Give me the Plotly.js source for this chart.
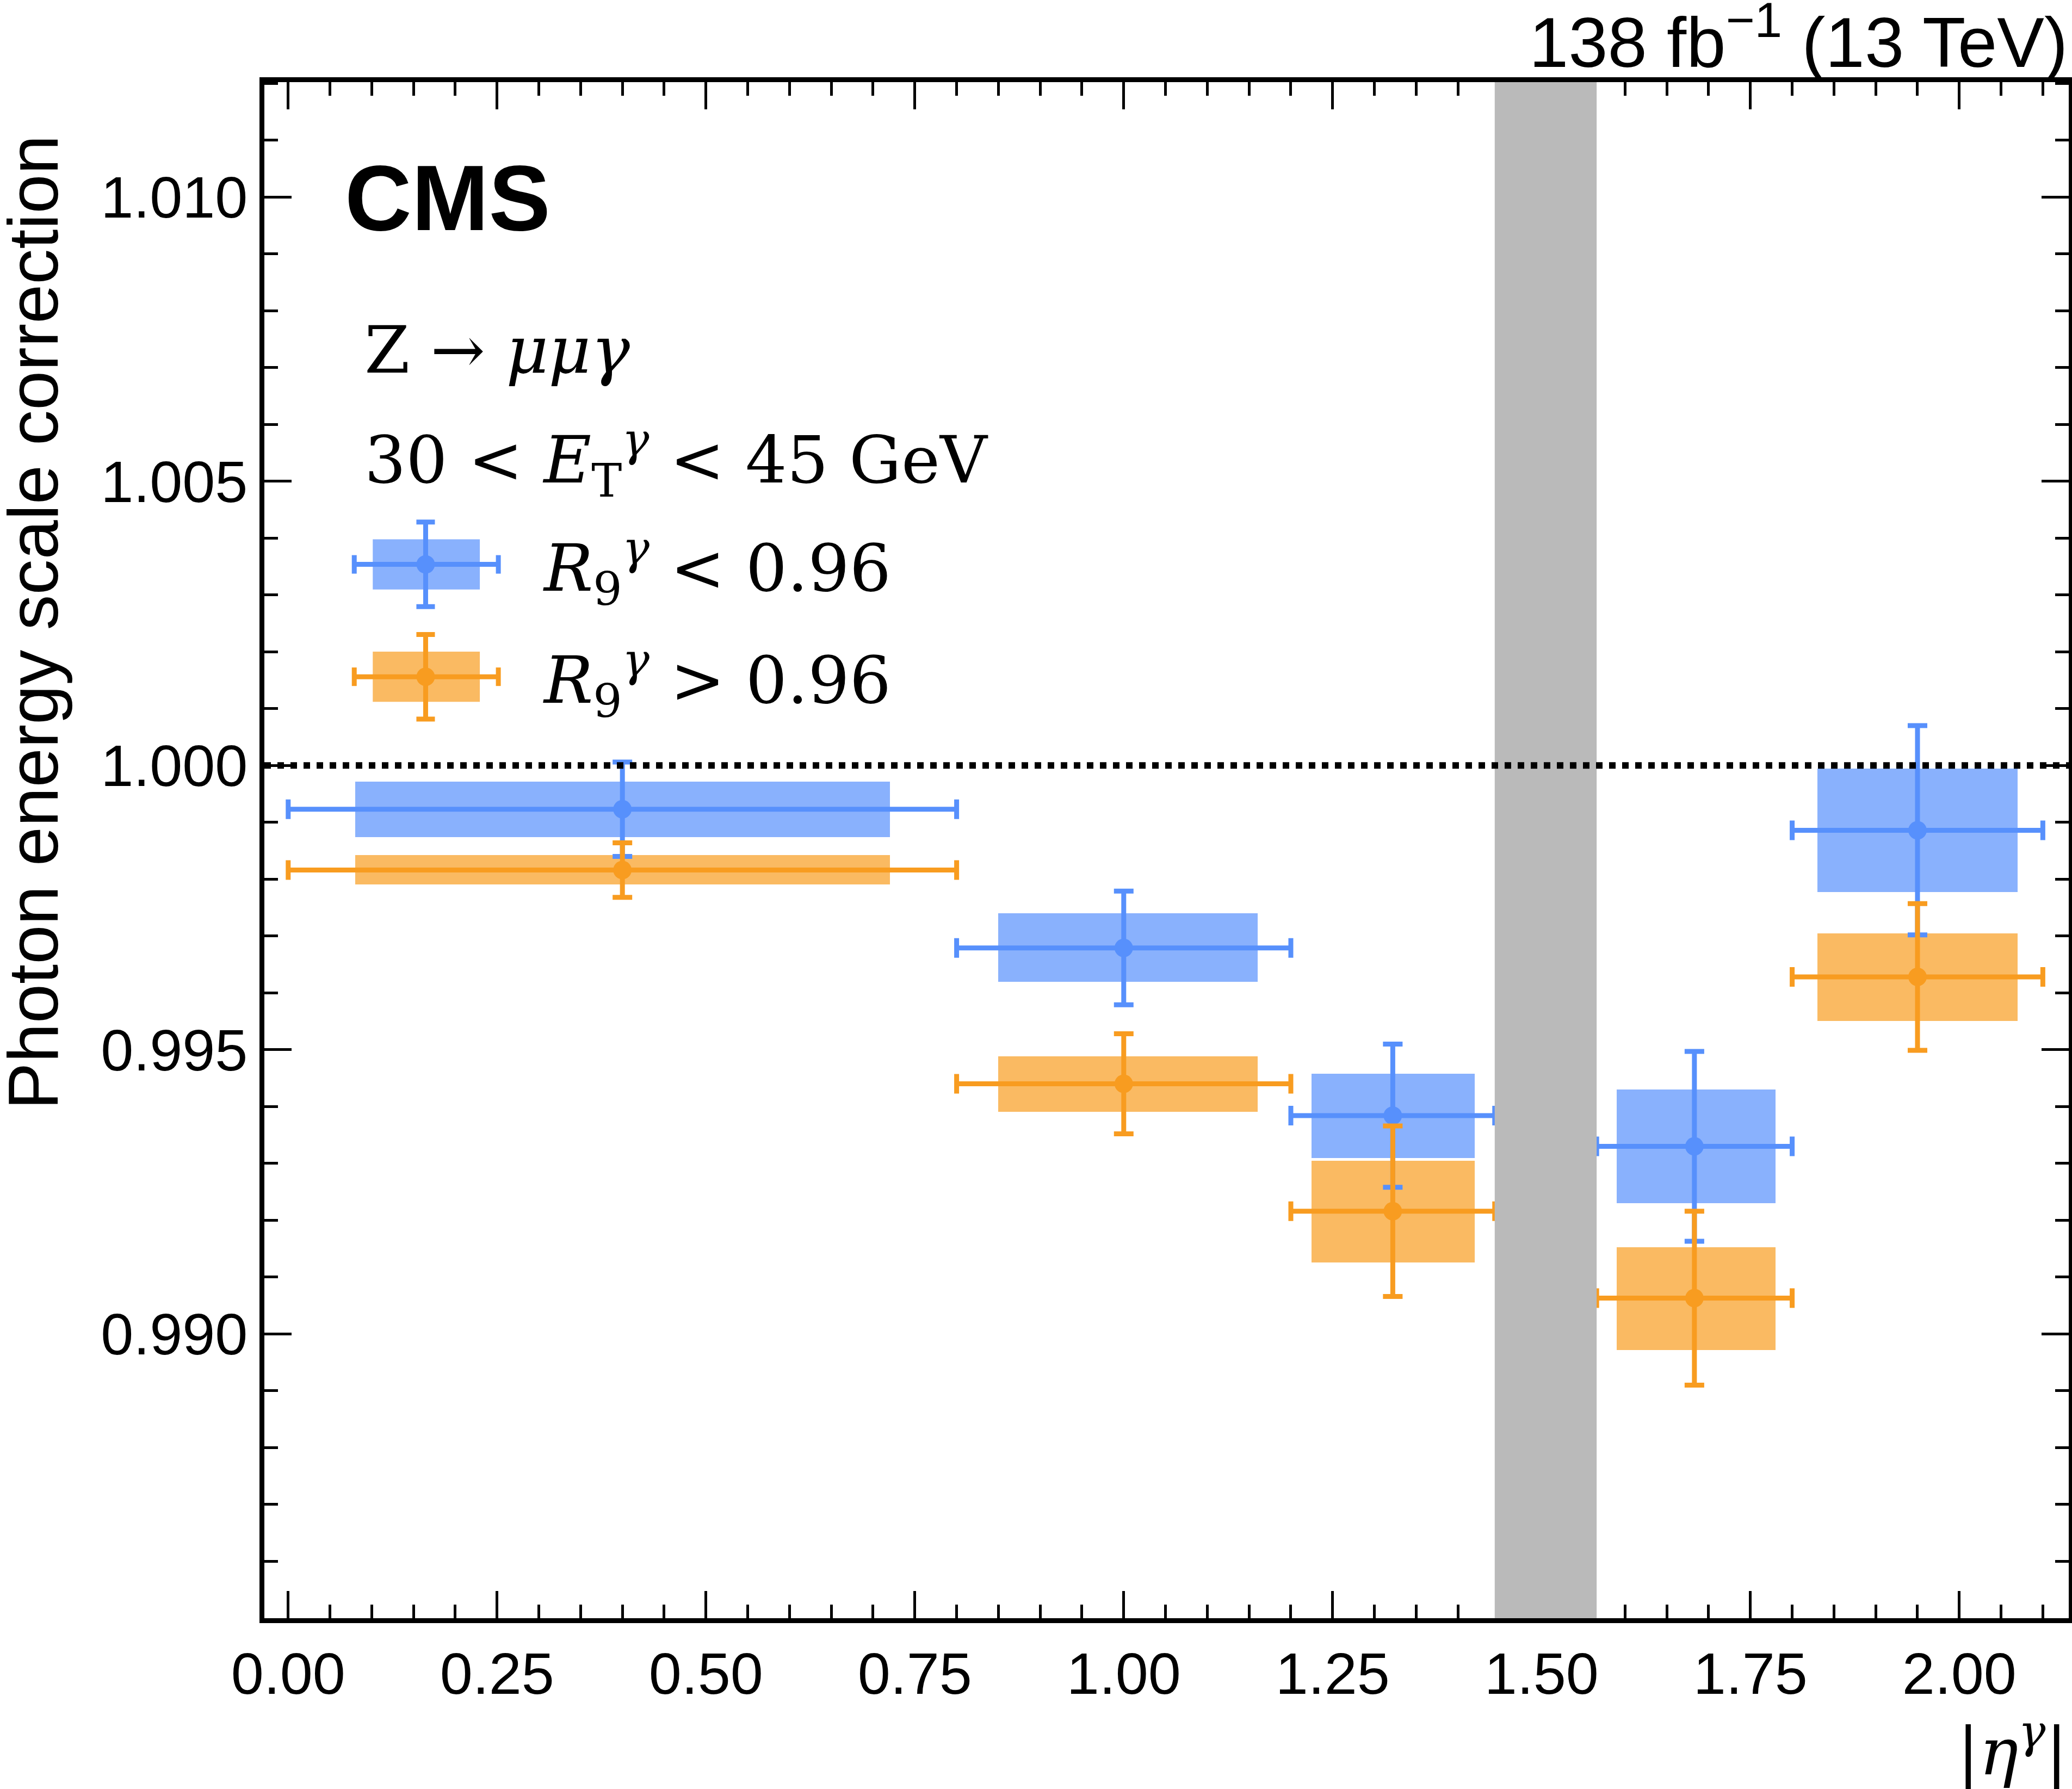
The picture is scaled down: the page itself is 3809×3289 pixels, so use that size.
<!DOCTYPE html>
<html>
<head>
<meta charset="utf-8">
<script src="https://cdn.plot.ly/plotly-3.0.1.min.js"></script>
<style>body{margin:0;background:#fff}#myGraph{width:3809px;height:3289px}</style>
</head>
<body>
<div id="myGraph"></div>
<script>
// bins in |eta|
let binLo = [0.0, 0.8, 1.2, 1.566, 1.8];
let binHi = [0.8, 1.2, 1.444, 1.8, 2.1];
let binCenter = [0.4, 1.0, 1.322, 1.683, 1.95];
let boxLo = [0.08, 0.85, 1.225, 1.59, 1.83];
let boxHi = [0.72, 1.16, 1.42, 1.78, 2.07];

// R9 < 0.96
let lowVal = [0.99923, 0.99679, 0.99384, 0.99330, 0.99886];
let lowErr = [0.00083, 0.00100, 0.00126, 0.00167, 0.00184];
let lowBoxTop = [0.99972, 0.99740, 0.99458, 0.99430, 0.99995];
let lowBoxBot = [0.99874, 0.99619, 0.99309, 0.99230, 0.99777];

// R9 > 0.96
let highVal = [0.99816, 0.99440, 0.99216, 0.99063, 0.99628];
let highErr = [0.00048, 0.00088, 0.00150, 0.00153, 0.00129];
let highBoxTop = [0.99842, 0.99488, 0.99305, 0.99153, 0.99705];
let highBoxBot = [0.99791, 0.99391, 0.99126, 0.98972, 0.99551];

let blue = '#5790fc', orange = '#f89c20';
let S = 2.43;
let L = 486, R = 3803, T = 151, B = 2975;
let px = d => (d * S - L) / (R - L);
let py = d => (B - d * S) / (B - T);

function boxTrace(top, bot, color) {
  return {
    type: 'bar',
    x: boxLo.map((v, i) => (v + boxHi[i]) / 2),
    width: boxLo.map((v, i) => boxHi[i] - v),
    base: bot,
    y: top.map((v, i) => v - bot[i]),
    marker: {color: color, opacity: 0.7, line: {width: 0}},
    hoverinfo: 'skip', showlegend: false
  };
}
function pointTrace(val, err, color) {
  return {
    type: 'scatter', mode: 'markers',
    x: binCenter, y: val,
    marker: {color: color, size: 34},
    error_y: {type: 'data', array: err, color: color, thickness: 9, width: 18},
    error_x: {type: 'data', symmetric: false,
      array: binHi.map((v, i) => v - binCenter[i]),
      arrayminus: binLo.map((v, i) => binCenter[i] - v),
      color: color, thickness: 9, width: 18},
    showlegend: false
  };
}

let data = [
  boxTrace(lowBoxTop, lowBoxBot, blue),
  boxTrace(highBoxTop, highBoxBot, orange),
  pointTrace(lowVal, lowErr, blue),
  pointTrace(highVal, highErr, orange)
];

let axisCommon = {
  showline: true, linecolor: 'black', linewidth: 9, mirror: 'allticks',
  ticks: 'inside', ticklen: 50, tickwidth: 5, tickcolor: 'black',
  showgrid: false, zeroline: false,
  tickfont: {family: 'Liberation Sans, Arial', size: 108, color: 'black'}
};

let shapes = [
  {type: 'rect', xref: 'x', yref: 'paper', x0: 1.444, x1: 1.566, y0: 0, y1: 1,
   fillcolor: '#bababa', line: {width: 0}, layer: 'above'},
  {type: 'line', xref: 'paper', yref: 'y', x0: 0, x1: 1, y0: 1, y1: 1,
   line: {color: 'black', width: 12, dash: 'dot'}}
];
// legend symbols
[[427, blue], [512, orange]].forEach(([yc, c]) => {
  shapes.push({type: 'rect', xref: 'paper', yref: 'paper', x0: px(282), x1: px(363),
    y0: py(yc + 19), y1: py(yc - 19), fillcolor: c, opacity: 0.7, line: {width: 0}});
  shapes.push({type: 'line', xref: 'paper', yref: 'paper', x0: px(268), x1: px(377),
    y0: py(yc), y1: py(yc), line: {color: c, width: 9}});
  shapes.push({type: 'line', xref: 'paper', yref: 'paper', x0: px(322), x1: px(322),
    y0: py(yc - 32), y1: py(yc + 32), line: {color: c, width: 9}});
  [[268, 'v'], [377, 'v'], [322, 'h1'], [322, 'h2']].forEach(([xx, k]) => {
    if (k === 'v') shapes.push({type: 'line', xref: 'paper', yref: 'paper', x0: px(xx), x1: px(xx),
      y0: py(yc - 7), y1: py(yc + 7), line: {color: c, width: 9}});
    else { let yy = k === 'h1' ? yc - 32 : yc + 32;
      shapes.push({type: 'line', xref: 'paper', yref: 'paper', x0: px(xx - 7), x1: px(xx + 7),
      y0: py(yy), y1: py(yy), line: {color: c, width: 9}}); }
  });
  shapes.push({type: 'circle', xref: 'paper', yref: 'paper', x0: px(315), x1: px(329),
    y0: py(yc + 7), y1: py(yc - 7), fillcolor: c, line: {width: 0}});
});

let serif = {family: 'DejaVu Serif, Liberation Serif', size: 120, color: 'black'};
let sans = {family: 'Liberation Sans, Arial', size: 130, color: 'black'};
let annotations = [
  {xref: 'paper', yref: 'paper', x: px(260), y: py(150), xanchor: 'left', yanchor: 'middle',
   text: '<b>CMS</b>', font: {family: 'Liberation Sans, Arial', size: 170, color: 'black'}, showarrow: false},
  {xref: 'paper', yref: 'paper', x: px(275), y: py(265), xanchor: 'left', yanchor: 'middle',
   text: 'Z → <i>μμγ</i>', font: serif, showarrow: false},
  {xref: 'paper', yref: 'paper', x: px(275), y: py(348), xanchor: 'left', yanchor: 'middle',
   text: '30 < <i>E</i><sub>T</sub><sup><i>γ</i></sup> < 45 GeV', font: serif, showarrow: false},
  {xref: 'paper', yref: 'paper', x: px(410), y: py(430), xanchor: 'left', yanchor: 'middle',
   text: '<i>R</i><sub>9</sub><sup><i>γ</i></sup> < 0.96', font: serif, showarrow: false},
  {xref: 'paper', yref: 'paper', x: px(410), y: py(515), xanchor: 'left', yanchor: 'middle',
   text: '<i>R</i><sub>9</sub><sup><i>γ</i></sup> > 0.96', font: serif, showarrow: false},
  {xref: 'paper', yref: 'paper', x: 1, y: py(28), xanchor: 'right', yanchor: 'middle',
   text: '138 fb<sup>−1</sup> (13 TeV)', font: sans, showarrow: false},
  {xref: 'paper', yref: 'paper', x: 1, y: py(1322), xanchor: 'right', yanchor: 'middle',
   text: '|<i>η</i><sup><i>γ</i></sup>|', font: serif, showarrow: false},
  {xref: 'paper', yref: 'paper', x: px(25), y: py(471), xanchor: 'center', yanchor: 'middle',
   textangle: -90, text: 'Photon energy scale correction', font: sans, showarrow: false}
];

let layout = {
  width: 3809, height: 3289,
  margin: {l: L, r: 3809 - R, t: T, b: 3289 - B},
  paper_bgcolor: 'white', plot_bgcolor: 'white',
  barmode: 'overlay', bargap: 0,
  xaxis: Object.assign({}, axisCommon, {
    range: [-0.0285, 2.131], tickvals: [0, 0.25, 0.5, 0.75, 1, 1.25, 1.5, 1.75, 2],
    ticktext: ['0.00', '0.25', '0.50', '0.75', '1.00', '1.25', '1.50', '1.75', '2.00'],
    minor: {dtick: 0.05, tick0: 0, ticks: 'inside', ticklen: 25, tickwidth: 5, tickcolor: 'black'}
  }),
  yaxis: Object.assign({}, axisCommon, {
    range: [0.985, 1.01202], tickvals: [0.990, 0.995, 1.000, 1.005, 1.010],
    ticktext: ['0.990', '0.995', '1.000', '1.005', '1.010'],
    minor: {dtick: 0.001, tick0: 0.985, ticks: 'inside', ticklen: 25, tickwidth: 5, tickcolor: 'black'}
  }),
  shapes: shapes,
  annotations: annotations
};

Plotly.newPlot('myGraph', data, layout, {displayModeBar: false});
</script>
</body>
</html>
